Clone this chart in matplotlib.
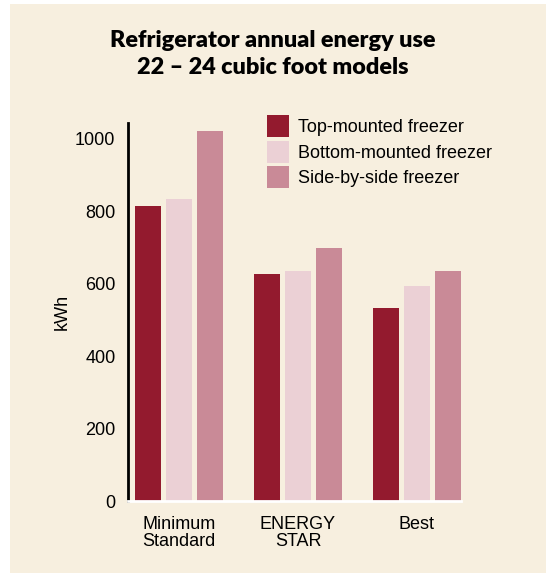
import matplotlib
matplotlib.use("Agg")
import matplotlib.pyplot as plt
from matplotlib.patches import Patch, Rectangle
import numpy as np

plt.rcParams["font.family"] = ["Liberation Sans", "DejaVu Sans"]

# ── データ ──
categories = ["Minimum\nStandard", "ENERGY\nSTAR", "Best"]
series_names = ["Top-mounted freezer", "Bottom-mounted freezer", "Side-by-side freezer"]
top_mounted = [813, 626, 532]
bottom_mounted = [832, 634, 593]
side_by_side = [1022, 697, 634]
y_ticks = [0, 200, 400, 600, 800, 1000]

colors = ["#931A2E", "#EBD0D5", "#C98A97"]
cream = "#F7EFDF"

fig = plt.figure(figsize=(5.46, 5.73), dpi=100, facecolor="white")

# 背景のクリーム色パネル
bg = fig.add_axes([0, 0, 1, 1], zorder=-1)
bg.axis("off")
bg.add_patch(Rectangle((10 / 546, 0), 1, (573 - 4) / 573,
                       transform=bg.transAxes, facecolor=cream, edgecolor="none"))

ax = fig.add_axes([128 / 546, (573 - 501) / 573, (461 - 128) / 546, (501 - 123) / 573])
ax.set_facecolor("none")

x = np.arange(len(categories))
width = 26 / 119
step = 31 / 119
for k, (vals, name) in enumerate(zip([top_mounted, bottom_mounted, side_by_side], series_names)):
    ax.bar(x + (k - 1) * step, vals, width=width, color=colors[k], label=name, zorder=2)

ax.set_xlim(-51 / 119, 2 + 44 / 119)
ax.set_ylim(0, 1043)
ax.set_yticks(y_ticks)
ax.set_yticklabels([str(v) for v in y_ticks], fontsize=13)
ax.set_xticks(x)
ax.set_xticklabels(categories, fontsize=13, linespacing=1.0)
ax.tick_params(axis="both", length=0)
ax.tick_params(axis="y", pad=9)
ax.tick_params(axis="x", pad=11)

for s in ["top", "right"]:
    ax.spines[s].set_visible(False)
ax.spines["left"].set_linewidth(2)
ax.spines["left"].set_color("black")
ax.spines["bottom"].set_color("white")
ax.spines["bottom"].set_linewidth(2)
ax.spines["bottom"].set_zorder(3)

ax.set_ylabel("kWh", fontsize=13, labelpad=3)

handles = [Patch(facecolor=c, edgecolor="none") for c in colors]
fig.legend(handles, series_names, loc="upper left",
           bbox_to_anchor=(267 / 546, 1 - 115 / 573), frameon=False,
           fontsize=13, handlelength=1.22, handleheight=1.5,
           handletextpad=0.5, labelspacing=0.2, borderpad=0, borderaxespad=0)

fig.text(0.5, 1 - 54 / 573, "Refrigerator annual energy use\n22 – 24 cubic foot models",
         ha="center", va="center", fontsize=16.8, fontweight="heavy",
         family="Lato", linespacing=1.3)

fig.savefig("out.png", dpi=100, facecolor=fig.get_facecolor())
